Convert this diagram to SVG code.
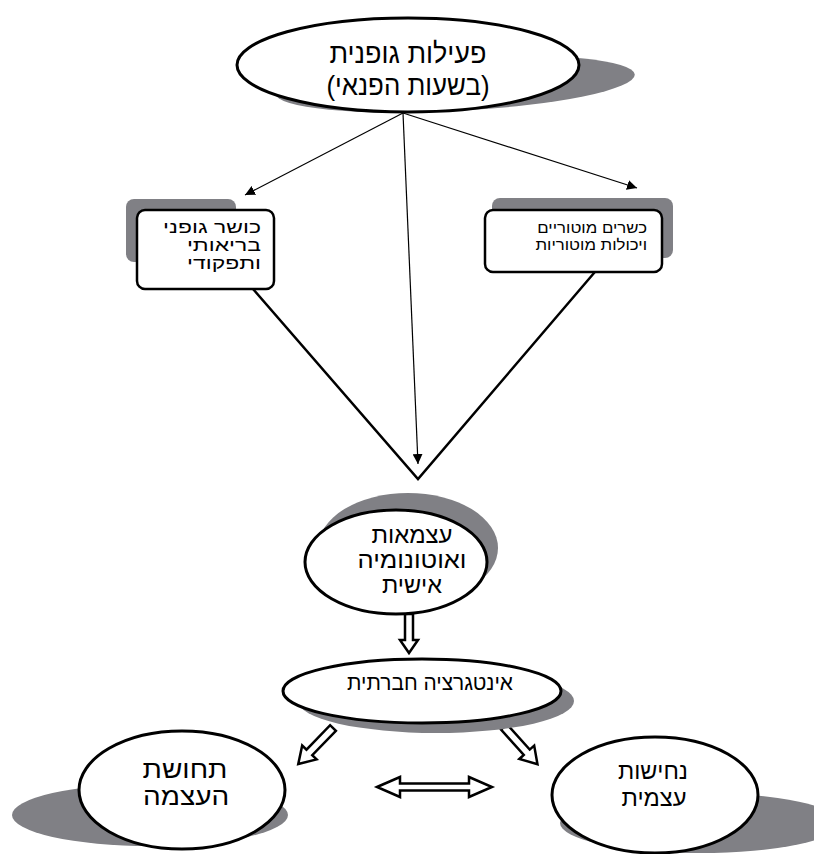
<svg xmlns="http://www.w3.org/2000/svg" width="814" height="854" viewBox="0 0 814 854">
<style>
.sh{fill:#808085;stroke:none}
.node{fill:#fff;stroke:#000;stroke-width:3}
.box{fill:#fff;stroke:#000;stroke-width:2.5}
.t{font-family:"Liberation Sans","DejaVu Sans",sans-serif;fill:#000}
.thin{stroke:#000;stroke-width:1.2;fill:none}
.v{stroke:#000;stroke-width:2.5;fill:none}
.hollow{fill:#fff;stroke:#000;stroke-width:2.5;stroke-linejoin:miter}
</style>
<defs>
<marker id="ah" viewBox="0 0 10 10" refX="10" refY="5" markerWidth="10" markerHeight="10" markerUnits="userSpaceOnUse" orient="auto">
<path d="M0,0 L10,5 L0,10 z" fill="#000"/>
</marker>
</defs>
<rect width="814" height="854" fill="#fff"/>

<g id="connectors">
<line class="thin" x1="403" y1="113" x2="245" y2="195" marker-end="url(#ah)"/>
<line class="thin" x1="403" y1="113" x2="637" y2="188" marker-end="url(#ah)"/>
<line class="thin" x1="403" y1="113" x2="418" y2="464" marker-end="url(#ah)"/>
<polyline class="v" points="253,289 418,479 600,266"/>
<polygon class="hollow" points="405,614 413,614 413,640 418,640 409,653 400,640 405,640"/>
<polygon class="hollow" transform="translate(333,728) rotate(134)" points="0,-4 34,-4 34,-10 50,0 34,10 34,4 0,4"/>
<polygon class="hollow" transform="translate(504,727) rotate(48)" points="0,-4 34,-4 34,-10 50,0 34,10 34,4 0,4"/>
<polygon class="hollow" points="377,787 400,777 400,783.5 469,783.5 469,777 492,787 469,797 469,790.5 400,790.5 400,797"/>
</g>

<g id="node-top">
<ellipse class="sh" cx="455" cy="84" rx="180" ry="27" transform="rotate(-3 455 84)"/>
<ellipse class="node" cx="408" cy="65" rx="171" ry="47"/>
<text class="t" x="408" y="63" font-size="28" text-anchor="middle" textLength="157" lengthAdjust="spacingAndGlyphs">פעילות גופנית</text>
<text class="t" x="408" y="95" font-size="28" text-anchor="middle" textLength="163" lengthAdjust="spacingAndGlyphs">(בשעות הפנאי)</text>
</g>

<g id="node-fitness">
<rect class="sh" x="126" y="199" width="110" height="63" rx="8"/>
<rect class="box" x="137" y="210" width="137" height="79" rx="8"/>
<g transform="translate(261,0) scale(1.35,1)">
<text class="t" x="0" y="233" font-size="17" text-anchor="end">כושר גופני</text>
<text class="t" x="0" y="251" font-size="17" text-anchor="end">בריאותי</text>
<text class="t" x="0" y="269" font-size="17" text-anchor="end">ותפקודי</text>
</g>
</g>

<g id="node-motor">
<rect class="sh" x="492" y="198" width="181" height="60" rx="8"/>
<rect class="box" x="485" y="210" width="177" height="62" rx="8"/>
<g transform="translate(647,0) scale(1.12,1)">
<text class="t" x="0" y="233" font-size="15" text-anchor="end">כשרים מוטוריים</text>
<text class="t" x="0" y="250" font-size="15" text-anchor="end">ויכולות מוטוריות</text>
</g>
</g>

<g id="node-autonomy">
<ellipse class="sh" cx="408" cy="548" rx="90" ry="55"/>
<ellipse class="node" cx="396" cy="562" rx="91" ry="52"/>
<text class="t" x="412" y="543" font-size="24" text-anchor="middle" textLength="81" lengthAdjust="spacingAndGlyphs">עצמאות</text>
<text class="t" x="412" y="568" font-size="24" text-anchor="middle" textLength="109" lengthAdjust="spacingAndGlyphs">ואוטונומיה</text>
<text class="t" x="412" y="593" font-size="24" text-anchor="middle" textLength="60" lengthAdjust="spacingAndGlyphs">אישית</text>
</g>

<g id="node-integration">
<ellipse class="sh" cx="436" cy="701" rx="138" ry="32"/>
<ellipse class="node" cx="422" cy="691" rx="139" ry="32"/>
<text class="t" x="430" y="690" font-size="21" text-anchor="middle" textLength="166" lengthAdjust="spacingAndGlyphs">אינטגרציה חברתית</text>
</g>

<g id="node-empowerment">
<ellipse class="sh" cx="150" cy="815" rx="138" ry="31"/>
<ellipse class="node" cx="182" cy="790" rx="103" ry="59"/>
<g transform="translate(185,0) scale(1.12,1)">
<text class="t" x="0" y="778" font-size="25" text-anchor="middle">תחושת</text>
<text class="t" x="1" y="805" font-size="25" text-anchor="middle">העצמה</text>
</g>
</g>

<g id="node-determination">
<ellipse class="sh" cx="700" cy="823" rx="140" ry="30"/>
<ellipse class="node" cx="655" cy="795" rx="103" ry="58"/>
<text class="t" x="653" y="779" font-size="24" text-anchor="middle" textLength="70" lengthAdjust="spacingAndGlyphs">נחישות</text>
<text class="t" x="654" y="806" font-size="24" text-anchor="middle" textLength="65" lengthAdjust="spacingAndGlyphs">עצמית</text>
</g>
</svg>
